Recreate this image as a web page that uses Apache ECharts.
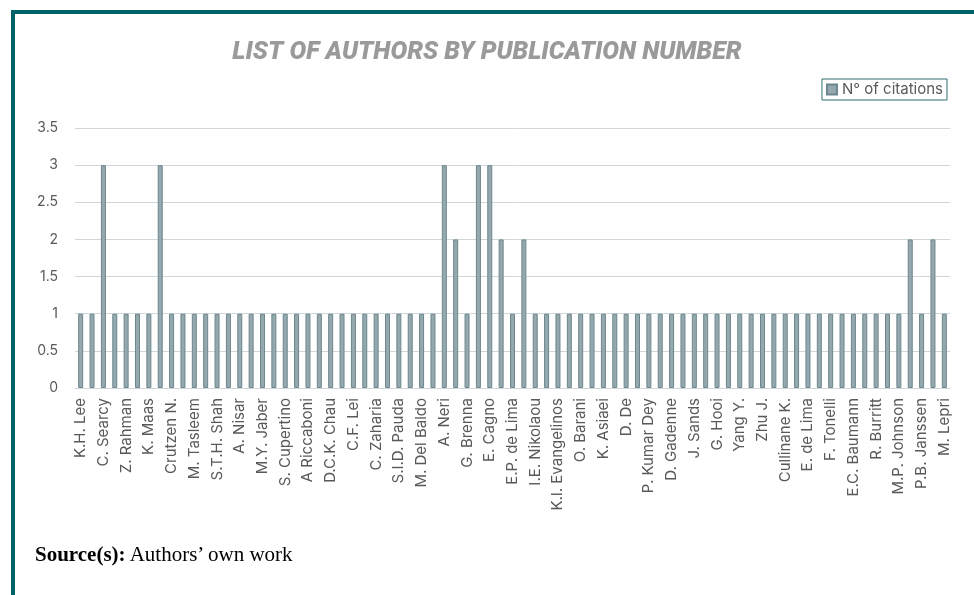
<!DOCTYPE html>
<html>
<head>
<meta charset="utf-8">
<script src="https://cdn.jsdelivr.net/npm/echarts@6/dist/echarts.min.js"></script>
<style>
  html, body { margin: 0; padding: 0; background: #fff; }
  #frame {
    position: absolute; left: 11px; top: 10px; width: 980px; height: 600px;
    border-top: 4px solid #00636a; border-left: 4px solid #00636a;
  }
  #main { position: absolute; left: 0; top: 0; width: 974px; height: 595px; }
  #source {
    position: absolute; left: 35px; top: 542px;
    font-family: "Liberation Serif", "DejaVu Serif", serif; font-size: 21px; color: #000;
  }
</style>
</head>
<body>
<div id="frame"></div>
<div id="main"></div>
<div id="source"><b>Source(s):</b> Authors’ own work</div>
<script>
// authors (only every second name is printed on the axis of the original)
var authors = [
  'K.H. Lee', '', 'C. Searcy', '', 'Z. Rahman', '', 'K. Maas', '', 'Crutzen N.', '',
  'M. Tasleem', '', 'S.T.H. Shah', '', 'A. Nisar', '', 'M.Y. Jaber', '', 'S. Cupertino', '',
  'A Riccaboni', '', 'D.C.K. Chau', '', 'C.F. Lei', '', 'C. Zaharia', '', 'S.I.D. Pauda', '',
  'M. Del Baldo', '', 'A. Neri', '', 'G. Brenna', '', 'E. Cagno', '', 'E.P. de Lima', '',
  'I.E. Nikolaou', '', 'K.I. Evangelinos', '', 'O. Barani', '', 'K. Asiaei', '', 'D. De', '',
  'P. Kumar Dey', '', 'D. Gadenne', '', 'J. Sands', '', 'G. Hooi', '', 'Yang Y.', '',
  'Zhu J.', '', 'Cullinane K.', '', 'E. de Lima', '', 'F. Tonelli', '', 'E.C. Baumann', '',
  'R. Burritt', '', 'M.P. Johnson', '', 'P.B. Janssen', '', 'M. Lepri'
];
var citations = [
  1, 1, 3, 1, 1, 1, 1, 3, 1, 1,
  1, 1, 1, 1, 1, 1, 1, 1, 1, 1,
  1, 1, 1, 1, 1, 1, 1, 1, 1, 1,
  1, 1, 3, 2, 1, 3, 3, 2, 1, 2,
  1, 1, 1, 1, 1, 1, 1, 1, 1, 1,
  1, 1, 1, 1, 1, 1, 1, 1, 1, 1,
  1, 1, 1, 1, 1, 1, 1, 1, 1, 1,
  1, 1, 1, 2, 1, 2, 1
];
// keep unique category keys so blank names do not merge
var categories = authors.map(function(a, i){ return a === '' ? ' '.repeat(i) : a; });

var chart = echarts.init(document.getElementById('main'));
var option = {
  animation: false,
  title: {
    text: 'LIST OF AUTHORS BY PUBLICATION NUMBER',
    left: 'center',
    top: 35,
    textStyle: {
      fontFamily: 'Roboto',
      fontStyle: 'italic',
      fontWeight: 900,
      fontSize: 25,
      color: '#9a9a9a'
    }
  },
  legend: {
    right: 27,
    top: 79,
    padding: [3, 4, 3, 4],
    borderColor: '#2e6e73',
    borderWidth: 1,
    borderRadius: 0,
    itemWidth: 10,
    itemHeight: 10,
    itemGap: 4,
    textStyle: { fontFamily: 'Inter', fontSize: 15, color: '#595959' },
    data: [{ name: 'N° of citations', icon: 'rect' }]
  },
  grid: { left: 75, right: 24, top: 128, bottom: 207, outerBoundsMode: 'none' },
  xAxis: {
    type: 'category',
    data: categories,
    axisLine: { lineStyle: { color: '#d0d7da' } },
    axisTick: { show: false },
    axisLabel: {
      interval: 0,
      rotate: 90,
      fontFamily: 'Inter',
      fontSize: 15,
      color: '#595959',
      margin: 10
    }
  },
  yAxis: {
    type: 'value',
    min: 0,
    max: 3.5,
    interval: 0.5,
    axisLine: { show: false },
    axisTick: { show: false },
    axisLabel: { fontFamily: 'Inter', fontSize: 14, color: '#595959', margin: 17 },
    splitLine: { lineStyle: { color: '#d0d7da', width: 1 } }
  },
  series: [{
    name: 'N° of citations',
    type: 'bar',
    data: citations,
    barWidth: 5,
    itemStyle: { color: '#94a8ad', borderColor: '#6b878d', borderWidth: 1 }
  }]
};
chart.setOption(option);
</script>
</body>
</html>
